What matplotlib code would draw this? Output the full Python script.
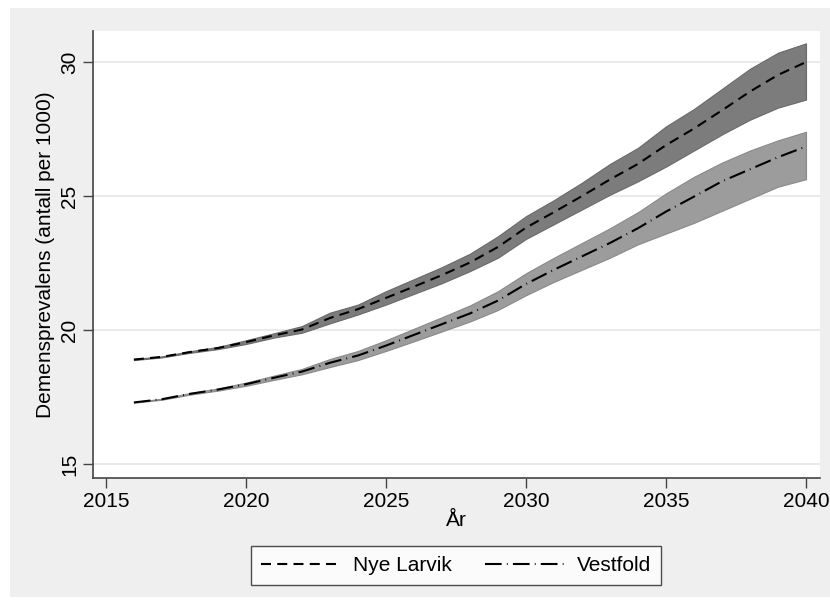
import matplotlib
matplotlib.use("Agg")
from matplotlib import pyplot as plt
from matplotlib.patches import Rectangle

plt.rcParams['font.family'] = ['Liberation Sans', 'DejaVu Sans']

years = list(range(2016, 2041))

larvik = [18.90, 19.00, 19.18, 19.33, 19.55, 19.80, 20.02, 20.45, 20.78, 21.20,
          21.62, 22.05, 22.52, 23.10, 23.82, 24.40, 25.00, 25.62, 26.20, 26.90,
          27.52, 28.20, 28.90, 29.52, 30.00]
larvik_hi = [18.92, 19.02, 19.21, 19.37, 19.62, 19.88, 20.15, 20.65, 20.95, 21.45,
             21.90, 22.35, 22.85, 23.50, 24.25, 24.85, 25.50, 26.20, 26.80, 27.60,
             28.25, 29.00, 29.75, 30.35, 30.70]
larvik_lo = [18.88, 18.98, 19.15, 19.29, 19.48, 19.72, 19.90, 20.25, 20.58, 20.95,
             21.35, 21.75, 22.20, 22.70, 23.40, 23.95, 24.50, 25.05, 25.55, 26.10,
             26.70, 27.30, 27.85, 28.30, 28.60]

vestfold = [17.30, 17.42, 17.62, 17.78, 17.98, 18.22, 18.45, 18.78, 19.05, 19.42,
            19.82, 20.22, 20.62, 21.10, 21.72, 22.25, 22.75, 23.25, 23.80, 24.42,
            24.98, 25.55, 26.00, 26.45, 26.85]
vestfold_hi = [17.31, 17.44, 17.65, 17.82, 18.04, 18.30, 18.55, 18.92, 19.22, 19.62,
               20.05, 20.48, 20.92, 21.45, 22.12, 22.70, 23.25, 23.80, 24.40, 25.10,
               25.72, 26.25, 26.70, 27.08, 27.40]
vestfold_lo = [17.29, 17.40, 17.59, 17.74, 17.92, 18.14, 18.35, 18.62, 18.88, 19.22,
               19.58, 19.95, 20.32, 20.75, 21.30, 21.80, 22.25, 22.70, 23.20, 23.60,
               24.00, 24.45, 24.90, 25.35, 25.63]

xticks = [2015, 2020, 2025, 2030, 2035, 2040]
yticks = [15, 20, 25, 30]

FS = 15

W, H = 830, 605
fig = plt.figure(figsize=(W / 100, H / 100), dpi=100, facecolor='white')
# grey graph region with a thin white margin
fig.patches.append(Rectangle((10 / W, 8 / H), (W - 10) / W, (H - 16) / H,
                             transform=fig.transFigure, facecolor='#efefef',
                             edgecolor='none', zorder=-10))

ax = fig.add_axes([93 / W, (H - 478) / H, (820 - 93) / W, (478 - 31) / H])
ax.set_facecolor('white')

ax.fill_between(years, larvik_lo, larvik_hi, facecolor='#7c7c7c',
                edgecolor='#6a6a6a', linewidth=0.8, zorder=2)
ax.fill_between(years, vestfold_lo, vestfold_hi, facecolor='#9c9c9c',
                edgecolor='#8a8a8a', linewidth=0.8, zorder=2)
l1, = ax.plot(years, larvik, color='black', linewidth=1.5, dashes=(4.8, 3),
              label='Nye Larvik', zorder=3)
l2, = ax.plot(years, vestfold, color='black', linewidth=1.5,
              dashes=(8, 2.5, 0.4, 2.5), label='Vestfold', zorder=3)

ax.set_xlim(2014.54, 2040.5)
ax.set_ylim(14.48, 31.16)
ax.set_xticks(xticks)
ax.set_yticks(yticks)
ax.set_yticklabels([str(v) for v in yticks], rotation=90, va='center')
ax.tick_params(axis='both', labelsize=FS, length=7, width=1, color='#444444',
               direction='out', pad=3)
ax.grid(axis='y', color='#e6e6e6', linewidth=1.2, zorder=0)
ax.set_axisbelow(True)

for side in ('top', 'right'):
    ax.spines[side].set_visible(False)
for side in ('left', 'bottom'):
    ax.spines[side].set_color('#444444')
    ax.spines[side].set_linewidth(1.2)

ax.set_xlabel('År', fontsize=FS, labelpad=0)
ax.set_ylabel('Demensprevalens (antall per 1000)', fontsize=FS, labelpad=4)

leg = fig.legend(handles=[l1, l2], loc='center', ncol=2,
                 bbox_to_anchor=(456 / W, 1 - 565.5 / H), fontsize=FS,
                 handlelength=3.8, handletextpad=0.6, columnspacing=1.6,
                 frameon=True, fancybox=False, borderpad=0.5)
leg.get_frame().set_edgecolor('#222222')
leg.get_frame().set_linewidth(1.0)
leg.get_frame().set_facecolor('white')

fig.savefig('out.png', dpi=100, facecolor=fig.get_facecolor())
